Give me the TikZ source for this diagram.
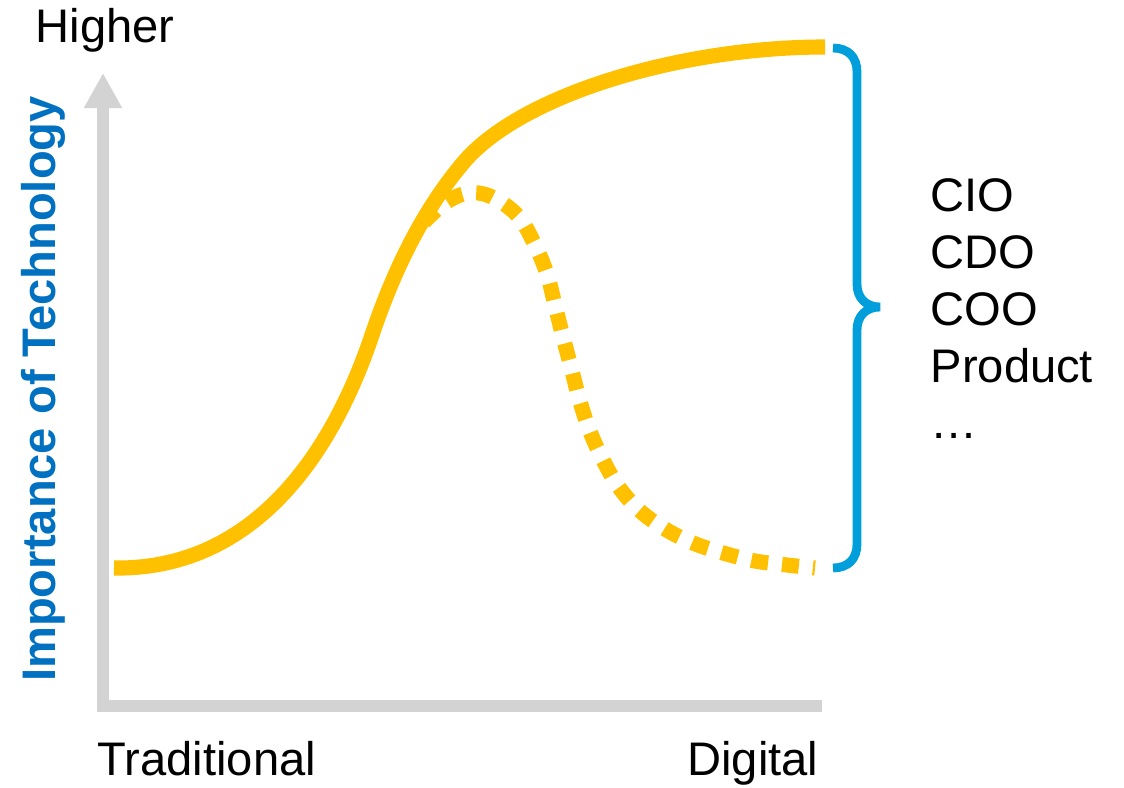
\documentclass[tikz,border=0pt]{standalone}
\usepackage{fontspec}
\setmainfont{Liberation Sans}
\usetikzlibrary{arrows.meta}

\definecolor{curveyellow}{RGB}{255,192,0}
\definecolor{axisgray}{RGB}{211,211,211}
\definecolor{titleblue}{RGB}{0,112,192}
\definecolor{braceblue}{RGB}{0,158,219}

\begin{document}
\begin{tikzpicture}[x=0.01cm,y=-0.01cm]
    \pgfmathsetmacro{\axisx}{103}
    \pgfmathsetmacro{\axisy}{706}
    \pgfmathsetmacro{\axistop}{73}
    \pgfmathsetmacro{\axisright}{822}
    \pgfmathsetmacro{\bracex}{857}
    \pgfmathsetmacro{\rolespacing}{56.7}
    \providecommand{\labelfontsize}{\fontsize{13.4pt}{16.1pt}\selectfont}
    \tikzset{
        axis/.style={draw=axisgray,line width=3.4pt,line join=miter},
        growth/.style={draw=curveyellow,line width=4.3pt},
        decline/.style={growth,dash pattern=on 4.8pt off 4pt},
        roles/.style={draw=braceblue,line width=2.5pt},
        label/.style={inner sep=0,font=\labelfontsize}
    }
    \useasboundingbox (0,0) rectangle (1124,788);
    % axes
    \coordinate (origin) at (\axisx,\axisy);
    \coordinate (xend) at (\axisright,\axisy);
    \coordinate (yend) at (\axisx,\axistop);
    \draw[axis,-{Triangle[length=10pt,width=10.2pt]}] (xend) -- (origin) -- (yend);
    \node[label,anchor=base west] (higher) at (35,43) {Higher};
    \node[label,anchor=base west] (traditional) at (97,775) {Traditional};
    \node[label,anchor=base east] (digital) at (819,775) {Digital};
    \node[label,rotate=90,anchor=base,text=titleblue,font=\labelfontsize\bfseries] (importance) at (55,389) {Importance of Technology};
    % curves
    \coordinate (growthstart) at (114,568);
    \coordinate (growthturn) at (372,335);
    \coordinate (growthknee) at (463,163);
    \coordinate (growthend) at (825,47);
    \draw[growth] (growthstart) .. controls (250,570) and (330,460) .. (growthturn)
        .. controls (393,273) and (421,213) .. (growthknee)
        .. controls (520,95) and (680,47) .. (growthend);
    \draw[decline] plot[smooth,tension=0.6] coordinates {(424,222) (445,203) (468,193) (492,197) (518,216) (535,245) (547,274) (555,305) (563,337) (571,367) (579,398) (589,429) (602,458) (618,486) (639,510) (665,529) (693,543) (723,553) (755,561) (787,565) (815,568)};
    % brace
    \coordinate (bracetop) at (833,48);
    \coordinate (bracetip) at (880,307);
    \coordinate (bracebottom) at (833,568);
    \draw[roles] (bracetop) .. controls (848,48) and (\bracex,57) .. (\bracex,72) -- (\bracex,284)
        .. controls (\bracex,298) and (866,307) .. (bracetip)
        .. controls (866,307) and (\bracex,316) .. (\bracex,330) -- (\bracex,544)
        .. controls (\bracex,559) and (848,568) .. (bracebottom);
    \foreach \role [count=\i] in {CIO,CDO,COO,Product,\dots}
        \node[label,anchor=base west] (role\i) at (930,{212+\rolespacing*(\i-1)}) {\role};
\end{tikzpicture}
\end{document}
